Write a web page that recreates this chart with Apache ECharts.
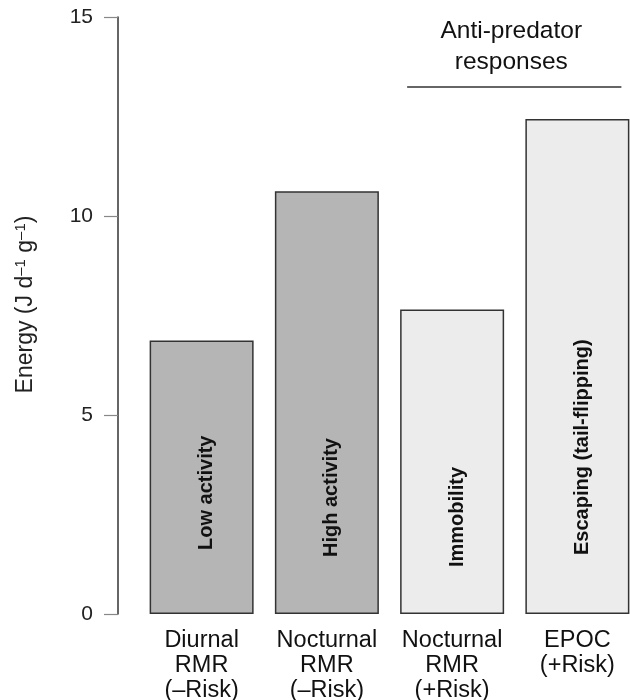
<!DOCTYPE html>
<html>
<head>
<meta charset="utf-8">
<script src="https://cdn.jsdelivr.net/npm/echarts@6/dist/echarts.min.js"></script>
<style>
html,body{margin:0;padding:0;background:#fff;}
#chart{width:630px;height:700px;}
</style>
</head>
<body>
<div id="chart"></div>
<script>
// ---- data ----
const categories = ['Diurnal\nRMR\n(–Risk)', 'Nocturnal\nRMR\n(–Risk)', 'Nocturnal\nRMR\n(+Risk)', 'EPOC\n(+Risk)'];
const energy = [6.87, 10.62, 7.65, 12.44];
const barLabels = ['Low activity', 'High activity', 'Immobility', 'Escaping (tail-flipping)'];
const yTicks = [0, 5, 10, 15];
const groupLabel = 'Anti-predator\nresponses';

// ---- styles ----
const fills = ['#b5b5b5', '#b5b5b5', '#ececec', '#ececec'];
const labelGaps = [64, 57, 47, 59];
const FONT = 'Liberation Sans, Arial, Helvetica, sans-serif';

const chart = echarts.init(document.getElementById('chart'), null, {renderer: 'canvas'});

const option = {
  animation: false,
  backgroundColor: '#fff',
  grid: {left: 139, width: 501, top: 17, bottom: 86, containLabel: false, outerBoundsMode: 'none'},
  xAxis: {
    type: 'category',
    data: categories,
    axisLine: {show: false},
    axisTick: {show: false},
    axisLabel: {
      interval: 0, margin: 14,
      fontFamily: FONT, fontSize: 23.5, lineHeight: 25, color: '#111'
    }
  },
  yAxis: {
    type: 'value',
    min: yTicks[0], max: yTicks[yTicks.length - 1], interval: 5,
    offset: 21,
    splitLine: {show: false},
    axisLine: {show: true, lineStyle: {color: '#333', width: 1.5}},
    axisTick: {show: true, length: 14, lineStyle: {color: '#888', width: 1.2}},
    axisLabel: {margin: 25, fontFamily: FONT, fontSize: 21, color: '#222'},
    name: '{n|Energy (J d}{s|–1}{n| g}{s|–1}{n|)}',
    nameLocation: 'middle',
    nameGap: 79,
    nameTextStyle: {
      fontFamily: FONT, fontSize: 23, color: '#222', padding: [0, 0, 0, 22],
      rich: {
        n: {fontFamily: FONT, fontSize: 23, color: '#222', lineHeight: 26},
        s: {fontFamily: FONT, fontSize: 15, color: '#222', lineHeight: 26, verticalAlign: 'top'}
      }
    }
  },
  series: [{
    type: 'bar',
    barWidth: 104,
    data: energy.map((v, i) => ({
      value: v,
      itemStyle: {color: fills[i], borderColor: '#333', borderWidth: 1.5},
      label: {
        show: true,
        formatter: barLabels[i],
        position: 'insideBottom',
        distance: labelGaps[i],
        rotate: 90,
        align: 'left',
        verticalAlign: 'middle',
        offset: [0, 5],
        fontFamily: FONT, fontWeight: 'bold', fontSize: 20, color: '#111'
      }
    }))
  }]
};
chart.setOption(option);

// group annotation tied to categories 3 and 4
const c2 = chart.convertToPixel({xAxisIndex: 0}, categories[2]);
const c3 = chart.convertToPixel({xAxisIndex: 0}, categories[3]);
const x1 = c2 - 45, x2 = c3 + 44;
chart.setOption({
  graphic: [
    {type: 'line', shape: {x1: x1, y1: 87, x2: x2, y2: 87}, style: {stroke: '#333', lineWidth: 1.5}},
    {type: 'text', x: (x1 + x2) / 2 - 3, y: 16,
     style: {text: groupLabel, fontFamily: FONT, fontSize: 24.5, lineHeight: 31, fill: '#111',
             align: 'center', verticalAlign: 'top'}}
  ]
});
</script>
</body>
</html>
